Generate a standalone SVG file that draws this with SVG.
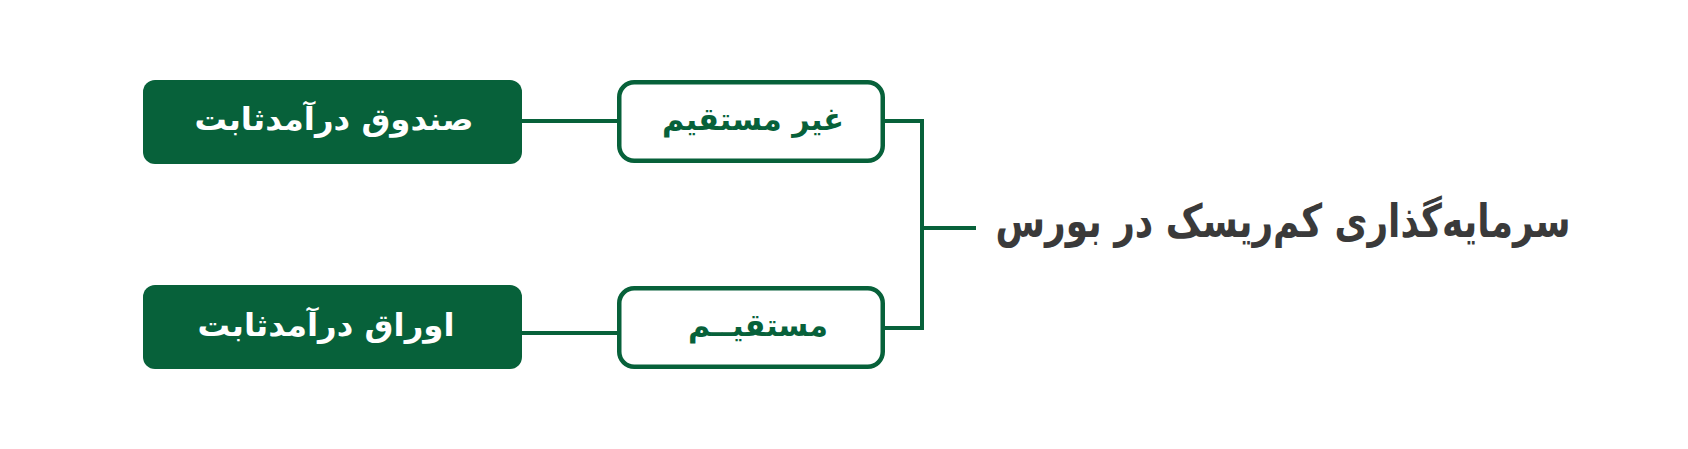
<svg xmlns="http://www.w3.org/2000/svg" width="1688" height="449" viewBox="0 0 1688 449">
<style>
.leaf{fill:#07613a}
.mid{fill:#ffffff;stroke:#07613a;stroke-width:4.5}
.conn{fill:none;stroke:#07613a;stroke-width:4}
text{font-family:"DejaVu Sans","Noto Sans",sans-serif;font-weight:bold;text-anchor:middle;dominant-baseline:central}
.lt{fill:#ffffff;font-size:31px}
.mt{fill:#07613a;font-size:31px}
.tt{fill:#3a3a3a;font-size:46px}
</style>
<rect width="1688" height="449" fill="#ffffff"/>
<g id="connectors">
<line class="conn" x1="522" y1="121" x2="618" y2="121"/>
<line class="conn" x1="522" y1="333" x2="618" y2="333"/>
<polyline class="conn" points="884,121 922,121 922,328 884,328"/>
<line class="conn" x1="922" y1="228" x2="976" y2="228"/>
</g>
<g id="node-fund">
<rect class="leaf" x="143" y="80" width="379" height="84" rx="12"/>
<text class="lt" x="334" y="119" textLength="279" lengthAdjust="spacingAndGlyphs">صندوق درآمدثابت</text>
</g>
<g id="node-bonds">
<rect class="leaf" x="143" y="285" width="379" height="84" rx="12"/>
<text class="lt" x="326" y="325" textLength="257" lengthAdjust="spacingAndGlyphs">اوراق درآمدثابت</text>
</g>
<g id="node-indirect">
<rect class="mid" x="619.25" y="82.25" width="263.5" height="78.5" rx="15"/>
<text class="mt" x="753" y="119" textLength="182" lengthAdjust="spacingAndGlyphs">غیر مستقیم</text>
</g>
<g id="node-direct">
<rect class="mid" x="619.25" y="288.25" width="263.5" height="78.5" rx="15"/>
<text class="mt" x="758" y="325" textLength="140" lengthAdjust="spacingAndGlyphs">مستقیــم</text>
</g>
<g id="node-root">
<text class="tt" transform="translate(1283,221) scale(0.78,1)" x="0" y="0">سرمایه‌گذاری کم‌ریسک در بورس</text>
</g>
</svg>
